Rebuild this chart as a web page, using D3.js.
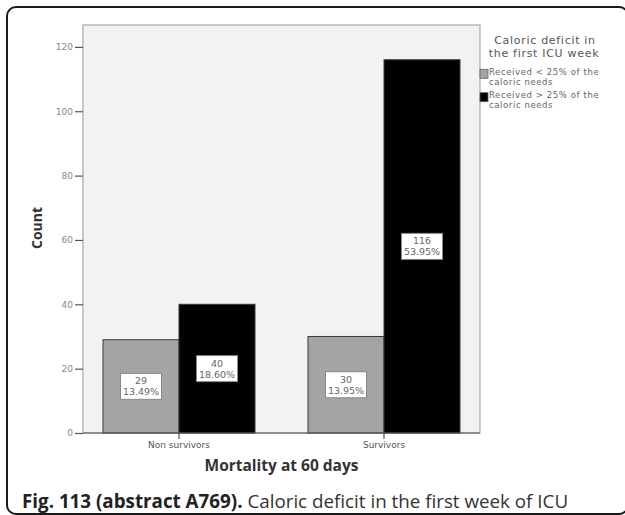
<!DOCTYPE html>
<html><head><meta charset="utf-8">
<script src="https://cdn.jsdelivr.net/npm/d3@7"></script>
<style>body{margin:0;background:#fff;}svg{display:block;}</style>
</head><body>
<svg id="c" width="625" height="515"></svg>
<script>
const categories = ["Non survivors", "Survivors"];
const seriesNames = ["Received < 25% of the|caloric needs", "Received > 25% of the|caloric needs"];
const lowCounts = [29, 30];
const highCounts = [40, 116];
const lowPercents = ["13.49%", "13.95%"];
const highPercents = ["18.60%", "53.95%"];
const yTicks = [0, 20, 40, 60, 80, 100, 120];

const svg = d3.select("#c");
const plot = {left: 83, right: 480, top: 25, bottom: 433};
const colors = ["#a4a4a4", "#000000"];
const F = "DejaVu Sans, sans-serif";

// outer frame
svg.append("rect").attr("x", 7).attr("y", 7).attr("width", 621).attr("height", 507)
  .attr("rx", 9).attr("fill", "none").attr("stroke", "#1a1a1a").attr("stroke-width", 2);

const y = d3.scaleLinear().domain([0, 126.8]).range([plot.bottom, plot.top]);
const x0 = d3.scaleBand().domain(categories).range([plot.left + 20, plot.right - 20]).paddingInner(0.2585).paddingOuter(0);
const x1 = d3.scaleBand().domain([0, 1]).range([0, x0.bandwidth()]);

// plot background
svg.append("rect").attr("x", plot.left).attr("y", plot.top)
  .attr("width", plot.right - plot.left).attr("height", plot.bottom - plot.top)
  .attr("fill", "#f2f2f2").attr("stroke", "#a8a8a8").attr("stroke-width", 1.2);

const data = categories.map((c, i) => ({
  cat: c,
  vals: [{s: 0, v: lowCounts[i], p: lowPercents[i]}, {s: 1, v: highCounts[i], p: highPercents[i]}]
}));

const g = svg.append("g").selectAll("g").data(data).join("g")
  .attr("transform", d => `translate(${x0(d.cat)},0)`);
g.selectAll("rect").data(d => d.vals).join("rect")
  .attr("x", d => x1(d.s)).attr("y", d => y(d.v))
  .attr("width", x1.bandwidth()).attr("height", d => y(0) - y(d.v))
  .attr("fill", d => colors[d.s]).attr("stroke", "#3a3a3a").attr("stroke-width", 1);

// value labels
const lab = g.selectAll("g.lab").data(d => d.vals).join("g").attr("class", "lab")
  .attr("transform", d => `translate(${x1(d.s) + x1.bandwidth() / 2},${(y(d.v) + y(0)) / 2})`);
lab.append("rect").attr("x", -20.5).attr("y", -13).attr("width", 41).attr("height", 26)
  .attr("fill", "#fff").attr("stroke", "#888").attr("stroke-width", 1);
lab.append("text").attr("text-anchor", "middle").attr("y", -2)
  .attr("font-family", F).attr("font-size", 9.5).attr("fill", "#666")
  .text(d => d.v);
lab.append("text").attr("text-anchor", "middle").attr("y", 9)
  .attr("font-family", F).attr("font-size", 9.5).attr("fill", "#666")
  .text(d => d.p);

// y axis
const ya = svg.append("g").attr("transform", `translate(${plot.left},0)`)
  .call(d3.axisLeft(y).tickValues(yTicks).tickSize(8).tickPadding(2));
ya.select(".domain").remove();
ya.selectAll(".tick line").attr("stroke", "#555").attr("stroke-width", 1.2);
ya.selectAll(".tick text").attr("font-family", F).attr("font-size", 9).attr("fill", "#888");

// x axis
svg.append("line").attr("x1", plot.left).attr("x2", plot.right).attr("y1", plot.bottom).attr("y2", plot.bottom)
  .attr("stroke", "#555").attr("stroke-width", 1.2);
const xa = svg.append("g").attr("transform", `translate(0,${plot.bottom})`)
  .call(d3.axisBottom(x0).tickSize(6).tickPadding(3).tickSizeOuter(0));
xa.select(".domain").remove();
xa.selectAll(".tick line").attr("stroke", "#555").attr("stroke-width", 1.2);
xa.selectAll(".tick text").attr("font-family", F).attr("font-size", 9).attr("fill", "#555");

// axis titles
svg.append("text").attr("transform", "translate(42,228) rotate(-90)").attr("text-anchor", "middle")
  .attr("font-family", "Open Sans, sans-serif").attr("font-weight", "bold").attr("font-size", 14).attr("fill", "#333")
  .text("Count");
svg.append("text").attr("x", (plot.left + plot.right) / 2).attr("y", 471).attr("text-anchor", "middle")
  .attr("font-family", "Open Sans, sans-serif").attr("font-weight", "bold").attr("font-size", 15.5).attr("fill", "#333")
  .text("Mortality at 60 days");

// legend
const lt = svg.append("text").attr("text-anchor", "middle")
  .attr("font-family", F).attr("font-size", 11).attr("letter-spacing", 0.7).attr("fill", "#555");
lt.append("tspan").attr("x", 545).attr("y", 44).text("Caloric deficit in");
lt.append("tspan").attr("x", 544).attr("y", 57).text("the first ICU week");
seriesNames.forEach((s, i) => {
  const yy = 69.3 + i * 23.4;
  svg.append("rect").attr("x", 480).attr("y", yy).attr("width", 8).attr("height", 9)
    .attr("fill", colors[i]).attr("stroke", "#666").attr("stroke-width", 0.8);
  const parts = s.split("|");
  const t = svg.append("text").attr("font-family", F).attr("font-size", 8.5).attr("letter-spacing", 0.6).attr("fill", "#666");
  t.append("tspan").attr("x", 489).attr("y", yy + 5.5).text(parts[0]);
  t.append("tspan").attr("x", 489).attr("y", yy + 15.5).text(parts[1]);
});

// caption
const cap = svg.append("text").attr("x", 22).attr("y", 508)
  .attr("font-family", "Open Sans, sans-serif").attr("font-size", 18.8).attr("fill", "#222");
cap.append("tspan").attr("font-weight", "bold").text("Fig. 113 (abstract A769).");
cap.append("tspan").attr("fill", "#333").text(" Caloric deficit in the first week of ICU");
</script>
</body></html>
